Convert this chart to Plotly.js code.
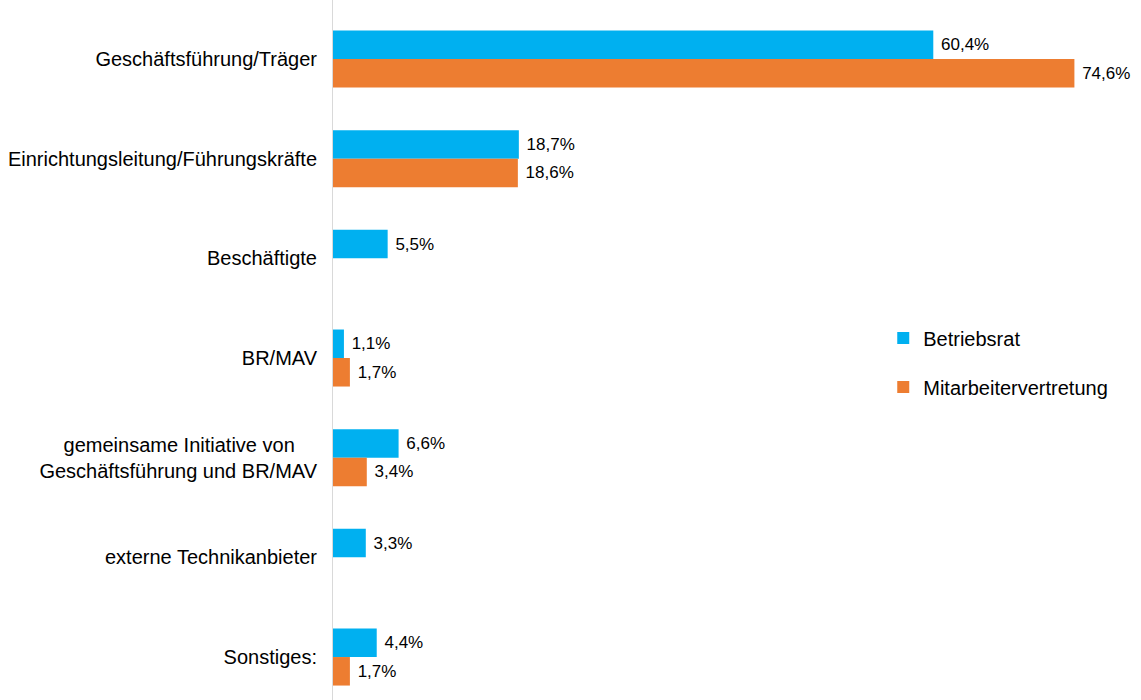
<!DOCTYPE html>
<html>
<head>
<meta charset="utf-8">
<script src="https://cdn.plot.ly/plotly-3.0.1.min.js"></script>
<style>html,body{margin:0;padding:0;background:#fff;}#chart{width:1141px;height:700px;}</style>
</head>
<body>
<div id="chart"></div>
<script>
const categories = [
  "Geschäftsführung/Träger",
  "Einrichtungsleitung/Führungskräfte",
  "Beschäftigte",
  "BR/MAV",
  "gemeinsame Initiative von\u00a0\u00a0\u00a0\u00a0<br>Geschäftsführung und BR/MAV",
  "externe Technikanbieter",
  "Sonstiges:"
];
const seriesNames = ["Betriebsrat", "Mitarbeitervertretung"];
const betriebsrat = [60.4, 18.7, 5.5, 1.1, 6.6, 3.3, 4.4];
const mitarbeitervertretung = [74.6, 18.6, null, 1.7, 3.4, null, 1.7];
const colors = ["#00B0F0", "#ED7D31"];

const font = "Liberation Sans, Arial, sans-serif";

function barTrace(vals, i) {
  return {
    type: "bar",
    orientation: "h",
    name: seriesNames[i],
    legendgroup: "g" + i,
    y: categories,
    x: vals,
    marker: {color: colors[i], line: {width: 0}},
    texttemplate: "\u00a0%{x:.1f}%",
    textposition: "outside",
    cliponaxis: false,
    constraintext: "none",
    textfont: {family: font, size: 17, color: "#000"},
    hoverinfo: "skip"
  };
}

const data = [barTrace(betriebsrat, 0), barTrace(mitarbeitervertretung, 1)];

const layout = {
  width: 1141,
  height: 700,
  margin: {l: 333, r: 0, t: 0, b: 0},
  paper_bgcolor: "#fff",
  plot_bgcolor: "#fff",
  separators: ",.",
  barmode: "group",
  bargap: 0.428,
  bargroupgap: 0,
  font: {family: font, size: 20, color: "#000"},
  xaxis: {
    range: [0, 81.3],
    showgrid: false,
    zeroline: false,
    showticklabels: false,
    showline: false,
    ticks: ""
  },
  yaxis: {
    type: "category",
    range: [6.431, -0.592],
    showgrid: false,
    zeroline: false,
    showline: true,
    linecolor: "#d9d9d9",
    linewidth: 1,
    ticks: "",
    ticklabelstandoff: 11,
    tickfont: {family: font, size: 20, color: "#000"}
  },
  showlegend: true,
  legend: {
    x: 0.681,
    xanchor: "left",
    y: 0.545,
    yanchor: "top",
    traceorder: "grouped",
    tracegroupgap: 20,
    font: {family: font, size: 20, color: "#000"},
    bgcolor: "rgba(0,0,0,0)"
  }
};

Plotly.newPlot("chart", data, layout, {staticPlot: true, displayModeBar: false});
</script>
</body>
</html>
